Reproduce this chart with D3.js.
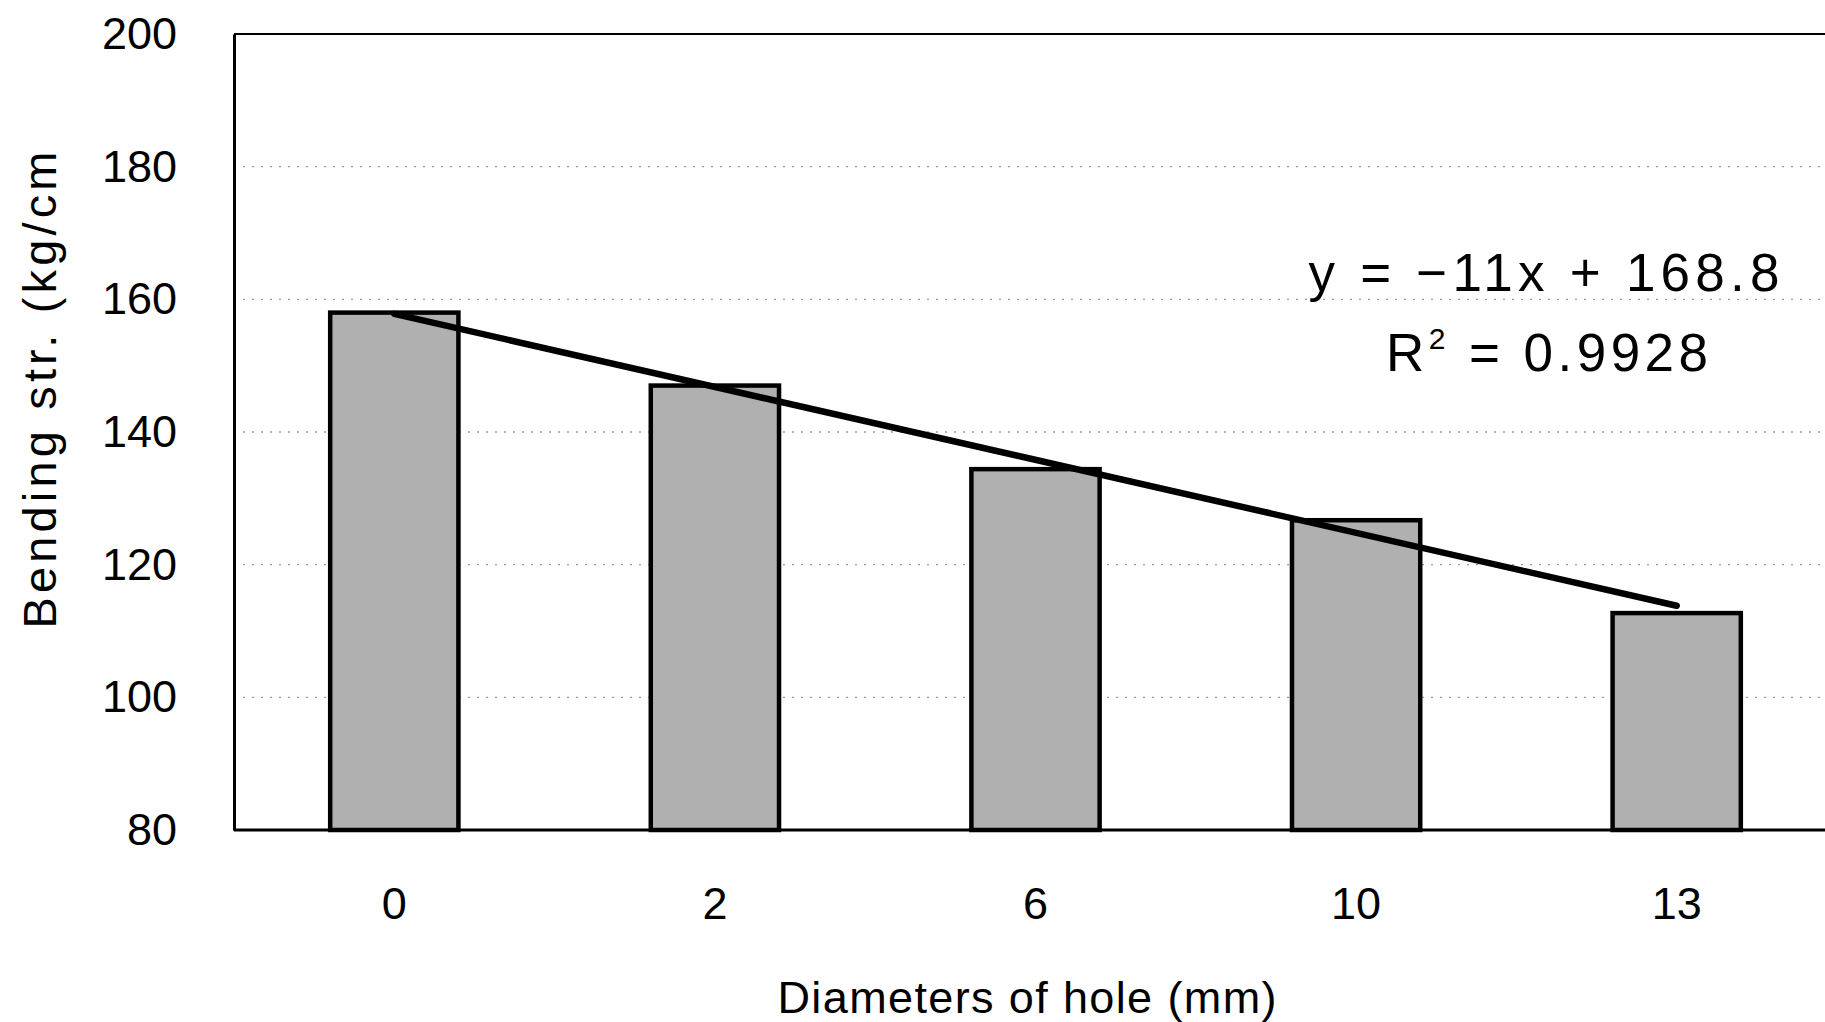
<!DOCTYPE html>
<html>
<head>
<meta charset="utf-8">
<script src="https://cdn.jsdelivr.net/npm/d3@7"></script>
<style>
  html, body { margin: 0; padding: 0; background: #fff; }
  svg { display: block; }
  text { font-family: "Liberation Sans", Arial, sans-serif; fill: #000; }
</style>
</head>
<body>
<script>
// ---- data ----
const categories = ["0", "2", "6", "10", "13"];
const strengths = [158.0, 147.0, 134.4, 126.7, 112.7];
const yTicks = [80, 100, 120, 140, 160, 180, 200];
const gridTicks = [100, 120, 140, 160, 180];
const trendSlope = -11;
const trendIntercept = 168.8;
const equationLabel = "y = \u221211x + 168.8";
const r2Value = "0.9928";
const xTitle = "Diameters of hole (mm)";
const yTitle = "Bending str. (kg/cm";

// ---- layout ----
const W = 1825, H = 1022;
const plot = { left: 234, right: 1837, top: 34, bottom: 830 };

const svg = d3.select("body").append("svg")
  .attr("width", W).attr("height", H);

const x = d3.scaleBand()
  .domain(categories)
  .range([plot.left, plot.right])
  .paddingInner(0.6)
  .paddingOuter(0.3);

const y = d3.scaleLinear()
  .domain([80, 200])
  .range([plot.bottom, plot.top]);

// gridlines (faint, dotted like the scan)
svg.append("g").selectAll("line").data(gridTicks).join("line")
  .attr("x1", plot.left).attr("x2", W)
  .attr("y1", d => y(d)).attr("y2", d => y(d))
  .attr("stroke", "#9a9a9a").attr("stroke-width", 1.3)
  .attr("stroke-dasharray", "2,7");

// plot frame: top border
svg.append("line")
  .attr("x1", plot.left).attr("x2", W)
  .attr("y1", plot.top).attr("y2", plot.top)
  .attr("stroke", "#000").attr("stroke-width", 2.2);

// bars
svg.append("g").selectAll("rect").data(strengths).join("rect")
  .attr("x", (d, i) => x(categories[i]))
  .attr("width", x.bandwidth())
  .attr("y", d => y(d))
  .attr("height", d => y(80) - y(d))
  .attr("fill", "#b0b0b0")
  .attr("stroke", "#000")
  .attr("stroke-width", 4.5);

// left axis
const yAxis = d3.axisLeft(y).tickValues(yTicks).tickSize(0).tickPadding(57);
const gy = svg.append("g").attr("transform", `translate(${plot.left},0)`).call(yAxis);
gy.select(".domain").attr("stroke", "#000").attr("stroke-width", 3);
gy.selectAll("text")
  .style("font-family", "'Liberation Sans', Arial, sans-serif")
  .style("font-size", "45px")
  .attr("fill", "#000");

// bottom axis
const xAxis = d3.axisBottom(x).tickSize(0).tickPadding(57);
const gx = svg.append("g").attr("transform", `translate(0,${plot.bottom})`).call(xAxis);
gx.select(".domain").remove();
gx.selectAll("text")
  .style("font-family", "'Liberation Sans', Arial, sans-serif")
  .style("font-size", "45px")
  .attr("fill", "#000");
svg.append("line")
  .attr("x1", plot.left).attr("x2", W)
  .attr("y1", plot.bottom).attr("y2", plot.bottom)
  .attr("stroke", "#000").attr("stroke-width", 3.2);

// linear trend line (x = 1..5 category index)
const trendPts = categories.map((c, i) => [x(c) + x.bandwidth() / 2, y(trendSlope * (i + 1) + trendIntercept)]);
const first = trendPts[0], last = trendPts[trendPts.length - 1];
svg.append("path")
  .attr("d", d3.line()([first, last]))
  .attr("stroke", "#000").attr("stroke-width", 6.5)
  .attr("fill", "none").attr("stroke-linecap", "round");

// equation + R²
svg.append("text")
  .attr("x", 1544).attr("y", 291)
  .attr("text-anchor", "middle")
  .attr("textLength", 471).attr("lengthAdjust", "spacing")
  .style("font-size", "53px")
  .text(equationLabel);

const r2 = svg.append("text")
  .attr("x", 1547).attr("y", 371)
  .attr("text-anchor", "middle")
  .attr("textLength", 322).attr("lengthAdjust", "spacing")
  .style("font-size", "53px");
r2.append("tspan").text("R");
r2.append("tspan").attr("dy", -22).style("font-size", "30px").text("2");
r2.append("tspan").attr("dy", 22).text(" = " + r2Value);

// axis titles
svg.append("text")
  .attr("x", 1027).attr("y", 1013)
  .attr("text-anchor", "middle")
  .attr("textLength", 499).attr("lengthAdjust", "spacing")
  .style("font-size", "45px")
  .text(xTitle);

svg.append("text")
  .attr("transform", "translate(56,390) rotate(-90)")
  .attr("text-anchor", "middle")
  .attr("textLength", 477).attr("lengthAdjust", "spacing")
  .style("font-size", "47px")
  .text(yTitle);
</script>
</body>
</html>
